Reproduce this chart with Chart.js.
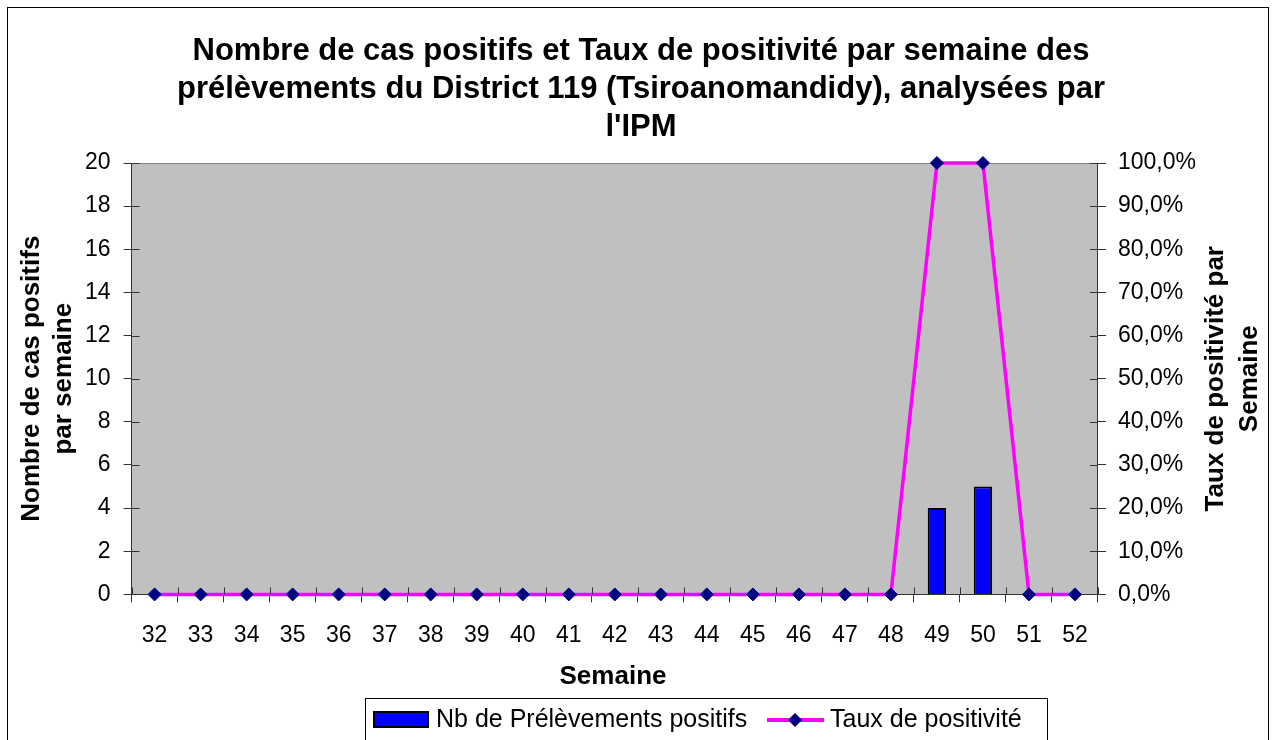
<!DOCTYPE html>
<html>
<head>
<meta charset="utf-8">
<script src="https://cdn.jsdelivr.net/npm/chart.js@4/dist/chart.umd.min.js"></script>
<style>
  html, body { margin: 0; padding: 0; background: #fff; }
  #wrap { width: 1276px; height: 740px; position: relative; }
</style>
</head>
<body>
<div id="wrap"><canvas id="chart" width="1276" height="740"></canvas></div>
<script>
// Semaines et valeurs
const semaines = ['32','33','34','35','36','37','38','39','40','41','42','43','44','45','46','47','48','49','50','51','52'];
const nbPositifs = [null,null,null,null,null,null,null,null,null,null,null,null,null,null,null,null,null,4,5,null,null];
const tauxPositivite = [0,0,0,0,0,0,0,0,0,0,0,0,0,0,0,0,0,1,1,0,0];
const titreLignes = [
    'Nombre de cas positifs et Taux de positivité par semaine des',
    'prélèvements du District 119 (Tsiroanomandidy), analysées par',
    "l'IPM"
];
const titreGauche = ['Nombre de cas positifs', 'par semaine'];
const titreDroite = ['Taux de positivité par', 'Semaine'];
const titreX = 'Semaine';
const legendeLabels = ['Nb de Prélèvements positifs', 'Taux de positivité'];

const FONT = "'Liberation Sans', Arial, sans-serif";

/**
 * Fond gris, cadre, titres, légende et petits traits croisés
 */
const decorPlugin = {
    id: 'decor',
    beforeDraw(chart) {
        const ctx = chart.ctx;
        const a = chart.chartArea;
        ctx.save();
        ctx.fillStyle = '#fff';
        ctx.fillRect(0, 0, chart.width, chart.height);
        // cadre extérieur
        ctx.strokeStyle = '#000';
        ctx.lineWidth = 1;
        ctx.strokeRect(7.5, 7.5, 1261, 760);
        // zone de tracé
        ctx.fillStyle = '#c0c0c0';
        ctx.fillRect(a.left, a.top, a.right - a.left, a.bottom - a.top);
        ctx.strokeStyle = '#808080';
        ctx.beginPath();
        ctx.moveTo(a.left, a.top + 0.5);
        ctx.lineTo(a.right, a.top + 0.5);
        ctx.stroke();
        ctx.restore();
    },
    afterDatasetsDraw(chart) {
        const ctx = chart.ctx;
        const a = chart.chartArea;
        ctx.save();
        ctx.strokeStyle = '#333';
        ctx.lineWidth = 1;
        // traits intérieurs des axes
        const yL = chart.scales.y, yR = chart.scales.y1;
        ctx.beginPath();
        yL.ticks.forEach(t => {
            const py = Math.round(yL.getPixelForValue(t.value)) + 0.5;
            ctx.moveTo(a.left, py); ctx.lineTo(a.left + 8, py);
        });
        yR.ticks.forEach(t => {
            const py = Math.round(yR.getPixelForValue(t.value)) + 0.5;
            ctx.moveTo(a.right - 8, py); ctx.lineTo(a.right, py);
        });
        for (let i = 0; i <= semaines.length; i++) {
            const px = Math.round(a.left + i * (a.right - a.left) / semaines.length) + 0.5;
            ctx.moveTo(px, a.bottom - 7); ctx.lineTo(px, a.bottom);
        }
        ctx.stroke();
        ctx.restore();
    },
    afterDraw(chart) {
        const ctx = chart.ctx;
        const a = chart.chartArea;
        const midY = (a.top + a.bottom) / 2;
        ctx.save();
        ctx.fillStyle = '#000';
        ctx.textAlign = 'center';
        ctx.textBaseline = 'middle';

        // titre principal
        ctx.font = 'bold 31px ' + FONT;
        titreLignes.forEach((l, i) => ctx.fillText(l, 641, 51 + i * 38));

        // titre axe X
        ctx.font = 'bold 26px ' + FONT;
        ctx.fillText(titreX, 613, 677);

        // titres axes Y (lecture de bas en haut)
        ctx.font = 'bold 26px ' + FONT;
        ctx.save();
        ctx.translate(32, midY);
        ctx.rotate(-Math.PI / 2);
        ctx.fillText(titreGauche[0], 0, 0);
        ctx.fillText(titreGauche[1], 0, 32);
        ctx.restore();
        ctx.save();
        ctx.translate(1216, midY);
        ctx.rotate(-Math.PI / 2);
        ctx.fillText(titreDroite[0], 0, 0);
        ctx.fillText(titreDroite[1], 0, 34);
        ctx.restore();

        // légende
        ctx.strokeStyle = '#000';
        ctx.lineWidth = 1;
        ctx.strokeRect(365.5, 698.5, 682, 60);
        ctx.fillStyle = '#0000ff';
        ctx.fillRect(374, 712, 54, 15);
        ctx.lineWidth = 2;
        ctx.strokeRect(374, 712, 54, 15);
        ctx.font = '25px ' + FONT;
        ctx.fillStyle = '#000';
        ctx.textAlign = 'left';
        ctx.fillText(legendeLabels[0], 436, 720);
        ctx.strokeStyle = '#ff00ff';
        ctx.lineWidth = 4;
        ctx.beginPath();
        ctx.moveTo(767, 720); ctx.lineTo(824, 720);
        ctx.stroke();
        ctx.fillStyle = '#000080';
        ctx.beginPath();
        ctx.moveTo(795, 713); ctx.lineTo(802, 720); ctx.lineTo(795, 727); ctx.lineTo(788, 720);
        ctx.closePath();
        ctx.fill();
        ctx.fillStyle = '#000';
        ctx.fillText(legendeLabels[1], 830, 720);
        ctx.restore();
    }
};

const tickFont = { family: FONT, size: 23 };

new Chart(document.getElementById('chart'), {
    type: 'bar',
    data: {
        labels: semaines,
        datasets: [
            {
                type: 'line',
                label: legendeLabels[1],
                data: tauxPositivite,
                yAxisID: 'y1',
                borderColor: '#ff00ff',
                borderWidth: 3.5,
                pointStyle: 'rectRot',
                pointRadius: 6.5,
                pointBackgroundColor: '#000080',
                pointBorderColor: '#000080',
                pointBorderWidth: 1,
                tension: 0,
                clip: false,
                order: 0
            },
            {
                type: 'bar',
                label: legendeLabels[0],
                data: nbPositifs,
                yAxisID: 'y',
                backgroundColor: '#0000ff',
                borderColor: '#000',
                borderWidth: 2,
                categoryPercentage: 1,
                barPercentage: 0.4,
                order: 1
            }
        ]
    },
    options: {
        responsive: false,
        animation: false,
        layout: { padding: { left: 72, right: 68, top: 163, bottom: 72 } },
        plugins: {
            legend: { display: false },
            title: { display: false },
            tooltip: { enabled: false }
        },
        scales: {
            x: {
                offset: true,
                grid: { display: true, drawOnChartArea: false, offset: true, tickLength: 8, color: '#333' },
                border: { display: true, color: '#333', width: 1 },
                ticks: { color: '#000', font: tickFont, padding: 19, maxRotation: 0 }
            },
            y: {
                position: 'left',
                min: 0, max: 20,
                grid: { display: true, drawOnChartArea: false, tickLength: 8, color: '#333' },
                border: { display: true, color: '#333', width: 1 },
                ticks: { stepSize: 2, color: '#000', font: tickFont, padding: 13 }
            },
            y1: {
                position: 'right',
                min: 0, max: 1,
                grid: { display: true, drawOnChartArea: false, tickLength: 8, color: '#333' },
                border: { display: true, color: '#333', width: 1 },
                ticks: {
                    stepSize: 0.1, color: '#000', font: tickFont, padding: 12,
                    callback: v => (v * 100).toFixed(1).replace('.', ',') + '%'
                }
            }
        }
    },
    plugins: [decorPlugin]
});
</script>
</body>
</html>
